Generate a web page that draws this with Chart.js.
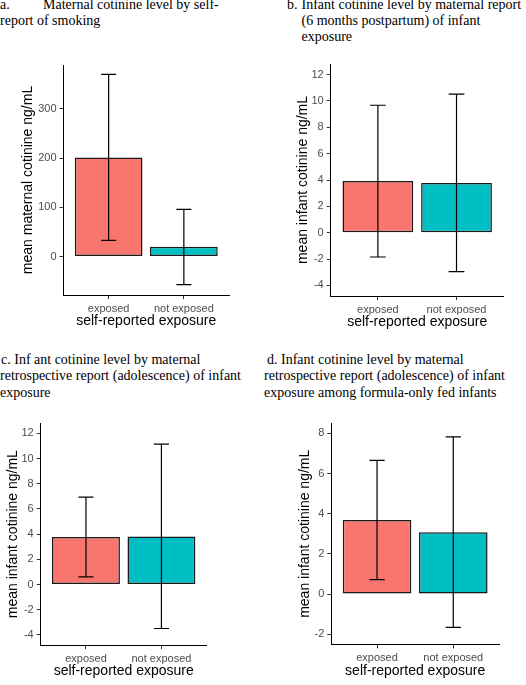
<!DOCTYPE html>
<html>
<head>
<meta charset="utf-8">
<script src="https://cdn.jsdelivr.net/npm/chart.js@4"></script>
<style>
  html, body { margin:0; padding:0; background:#fff; }
  body { width:526px; height:685px; position:relative; overflow:hidden; }
  canvas { position:absolute; }
  .ttl { position:absolute; font-family:"Liberation Serif","Times New Roman",serif; font-size:14px; line-height:16.5px; color:#000; white-space:nowrap; }
  .ttl span { position:absolute; white-space:nowrap; }
</style>
</head>
<body>
<div class="ttl" style="left:0;top:-3.5px;width:263px;height:40px;">
  <span style="left:0;top:0">a.</span>
  <span style="left:43px;top:0">Maternal cotinine level by self-</span>
  <span style="left:0;top:16.5px">report of smoking</span>
</div>
<div class="ttl" style="left:263px;top:-3.5px;width:263px;height:50px;">
  <span style="left:24px;top:0">b.</span>
  <span style="left:38.5px;top:0">Infant cotinine level by maternal report</span>
  <span style="left:38.5px;top:16.2px">(6 months postpartum) of infant</span>
  <span style="left:38.5px;top:32.4px">exposure</span>
</div>
<div class="ttl" style="left:0;top:351.5px;width:263px;height:50px;">
  <span style="left:1px;top:0">c. Inf ant cotinine level by maternal</span>
  <span style="left:0;top:16.5px">retrospective report (adolescence) of infant</span>
  <span style="left:0;top:33px">exposure</span>
</div>
<div class="ttl" style="left:263px;top:351.5px;width:263px;height:50px;">
  <span style="left:4px;top:0">d. Infant cotinine level by maternal</span>
  <span style="left:1px;top:16.5px">retrospective report (adolescence) of infant</span>
  <span style="left:1px;top:33px">exposure among formula-only fed infants</span>
</div>

<canvas id="ca" width="263" height="300" style="left:0;top:40px;width:263px;height:300px"></canvas>
<canvas id="cb" width="263" height="300" style="left:263px;top:40px;width:263px;height:300px"></canvas>
<canvas id="cc" width="263" height="285" style="left:0;top:400px;width:263px;height:285px"></canvas>
<canvas id="cd" width="263" height="285" style="left:263px;top:400px;width:263px;height:285px"></canvas>

<script>
// ---- data ----
const categories = ['exposed', 'not exposed'];
const barColors = ['#F8766D', '#00BFC4'];
const xTitle = 'self-reported exposure';

const meanA = [201, 20];
const lowA  = [33, -57];
const highA = [370, 96];
const ticksA = [0, 100, 200, 300];

const meanB = [3.92, 3.78];
const lowB  = [-1.84, -2.95];
const highB = [9.67, 10.51];
const ticksB = [-4, -2, 0, 2, 4, 6, 8, 10, 12];

const meanC = [3.77, 3.82];
const lowC  = [0.61, -3.49];
const highC = [6.94, 11.14];
const ticksC = [-4, -2, 0, 2, 4, 6, 8, 10, 12];

const meanD = [3.69, 3.08];
const lowD  = [0.72, -1.66];
const highD = [6.65, 7.82];
const ticksD = [-2, 0, 2, 4, 6, 8];

// ---- drawing ----
const errorBarPlugin = {
  id: 'errbars',
  afterDatasetsDraw(chart, args, opts) {
    const ctx = chart.ctx, xs = chart.scales.x, ys = chart.scales.y;
    ctx.save();
    ctx.strokeStyle = '#000';
    ctx.lineWidth = 1.2;
    opts.low.forEach((lo, i) => {
      const hi = opts.high[i];
      const xc = xs.getPixelForValue(i + 1);
      const half = xs.getPixelForValue(i + 1 + 0.1) - xc;
      const yl = ys.getPixelForValue(lo), yh = ys.getPixelForValue(hi);
      ctx.beginPath();
      ctx.moveTo(xc, yl); ctx.lineTo(xc, yh);
      ctx.moveTo(xc - half, yl); ctx.lineTo(xc + half, yl);
      ctx.moveTo(xc - half, yh); ctx.lineTo(xc + half, yh);
      ctx.stroke();
    });
    ctx.restore();
  }
};

const sans = 'Liberation Sans, Arial, sans-serif';

function makePanel(id, cfg) {
  const tickFont = { family: sans, size: 11 };
  const titleFont = { family: sans, size: 14 };
  return new Chart(document.getElementById(id), {
    type: 'bar',
    data: {
      datasets: [{
        data: cfg.mean.map((v, i) => ({ x: i + 1, y: v })),
        backgroundColor: barColors,
        borderColor: '#1a1a1a',
        borderWidth: 1.5,
        borderSkipped: false,
        categoryPercentage: 0.9,
        barPercentage: 1
      }]
    },
    plugins: [errorBarPlugin],
    options: {
      responsive: false,
      animation: false,
      devicePixelRatio: 1,
      layout: { padding: { left: 0, right: cfg.padRight, top: cfg.padTop, bottom: 0 } },
      plugins: {
        legend: { display: false },
        tooltip: { enabled: false },
        errbars: { low: cfg.low, high: cfg.high }
      },
      scales: {
        x: {
          type: 'linear',
          offset: false,
          min: 0.4, max: 2.6,
          afterBuildTicks: s => { s.ticks = categories.map((c, i) => ({ value: i + 1 })); },
          afterFit: s => { s.height = cfg.xH; },
          ticks: {
            callback: v => categories[v - 1],
            color: '#4D4D4D', font: tickFont, padding: 3,
            maxRotation: 0, autoSkip: false
          },
          grid: { offset: false, drawOnChartArea: false, color: '#333', tickLength: 4, tickWidth: 1 },
          border: { display: true, color: '#000', width: 1 },
          title: { display: true, text: xTitle, color: '#000', font: titleFont, padding: { top: 0, bottom: cfg.xTitlePad } }
        },
        y: {
          min: cfg.min, max: cfg.max,
          afterBuildTicks: s => { s.ticks = cfg.ticks.map(v => ({ value: v })); },
          afterFit: s => { s.width = cfg.yW; },
          ticks: { color: '#4D4D4D', font: tickFont, padding: 3 },
          grid: { drawOnChartArea: false, color: '#333', tickLength: 4, tickWidth: 1 },
          border: { display: true, color: '#000', width: 1 },
          title: { display: true, text: cfg.yTitle, color: '#000', font: titleFont, padding: { top: cfg.yTitlePad, bottom: 0 } }
        }
      }
    }
  });
}

makePanel('ca', { mean: meanA, low: lowA, high: highA, ticks: ticksA, min: -78, max: 389,
  yTitle: 'mean maternal cotinine ng/mL', yW: 63.5, padRight: 34, padTop: 25, xH: 45,
  yTitlePad: 19.9, xTitlePad: 10.1 });
makePanel('cb', { mean: meanB, low: lowB, high: highB, ticks: ticksB, min: -4.8, max: 12.8,
  yTitle: 'mean infant cotinine ng/mL', yW: 67.7, padRight: 22.3, padTop: 24, xH: 44,
  yTitlePad: 31.6, xTitlePad: 9.1 });
makePanel('cc', { mean: meanC, low: lowC, high: highC, ticks: ticksC, min: -4.8, max: 12.8,
  yTitle: 'mean infant cotinine ng/mL', yW: 40.7, padRight: 56.3, padTop: 23.3, xH: 40,
  yTitlePad: 4.9, xTitlePad: 5.1 });
makePanel('cd', { mean: meanD, low: lowD, high: highD, ticks: ticksD, min: -2.5, max: 8.5,
  yTitle: 'mean infant cotinine ng/mL', yW: 68.3, padRight: 27, padTop: 23.3, xH: 40.7,
  yTitlePad: 33.6, xTitlePad: 5.4 });
</script>
</body>
</html>
